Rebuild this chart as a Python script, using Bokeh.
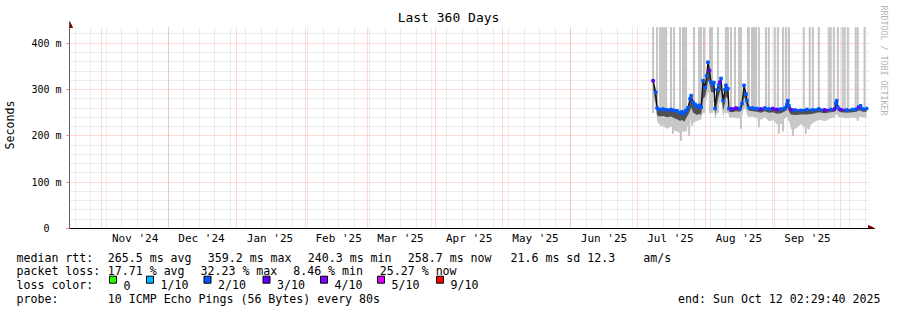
import pandas as pd
from bokeh.plotting import figure
from bokeh.models import (Range1d, FixedTicker, CustomJSTickFormatter, Arrow, Title,
                          NormalHead, ColumnDataSource)
from bokeh.layouts import column
from bokeh.embed import file_html
from bokeh.resources import INLINE
from bokeh.core.properties import value

# ---------------- data ----------------
TITLE = "Last 360 Days"
Y_AXIS_LABEL = "Seconds"
WATERMARK = "RRDTOOL / TOBI OETIKER"
END_TEXT = "end: Sun Oct 12 02:29:40 2025"
X_LEFT = "2024-10-17 08:00"
X_RIGHT = "2025-10-13 14:00"
Y_TOP_MS = 434

Y_TICKS = [0, 100, 200, 300, 400]
Y_TICK_LABELS = ["0\u00a0\u00a0", "100 m", "200 m", "300 m", "400 m"]

MONTH_STARTS = ["2024-11-01", "2024-12-01", "2025-01-01", "2025-02-01", "2025-03-01",
                "2025-04-01", "2025-05-01", "2025-06-01", "2025-07-01", "2025-08-01",
                "2025-09-01", "2025-10-01"]
MONTH_LABELS = ["Nov '24", "Dec '24", "Jan '25", "Feb '25", "Mar '25", "Apr '25",
                "May '25", "Jun '25", "Jul '25", "Aug '25", "Sep '25"]
FIRST_SUNDAY = "2024-10-20"

DATA_T0 = "2025-07-01"
DAY = [7.2, 8.4, 9.0, 9.9, 11.7, 13.5, 15.3, 16.7, 18.0, 19.4,
       20.3, 21.2, 22.1, 23.0, 23.9, 24.4, 25.3, 26.2, 27.1, 28.0,
       28.9, 29.8, 30.7, 31.4, 32.0, 32.7, 33.4, 34.3, 34.7, 35.2,
       36.1, 36.8, 37.4, 37.9, 38.8, 39.7, 40.1, 41.0, 41.5, 42.9,
       44.7, 46.5, 47.4, 48.3, 49.2, 49.6, 50.5, 52.3, 54.1, 55.9,
       57.7, 59.5, 61.3, 63.2, 65.0, 66.8, 67.7, 68.1, 68.6, 69.5,
       71.3, 74.0, 76.7, 79.4, 82.1, 84.8, 87.5, 89.3, 89.8, 90.2,
       90.7, 92.0, 94.7, 97.4, 99.2, 100.1, 101.0, 101.9, 103.7]
MEDIAN_MS = [319, 294, 260, 257, 258, 256, 257, 255, 254, 250,
             252, 248, 255, 261, 280, 287, 272, 268, 263, 266,
             262, 319, 305, 330, 359, 341, 316, 312, 315, 259,
             300, 309, 316, 324, 276, 300, 309, 302, 259, 258,
             260, 259, 270, 309, 290, 276, 261, 260, 259, 258,
             260, 258, 259, 257, 258, 260, 268, 276, 265, 257,
             256, 255, 257, 256, 258, 256, 257, 258, 270, 276,
             262, 257, 256, 257, 258, 262, 265, 258, 259]
LOSS_TENTHS = [3, 2, 2, 2, 2, 2, 2, 2, 2, 2,
               2, 2, 2, 2, 2, 2, 2, 2, 2, 2,
               2, 2, 2, 2, 2, 3, 2, 2, 2, 2,
               2, 2, 3, 2, 2, 2, 2, 2, 2, 3,
               3, 2, 2, 2, 2, 2, 2, 2, 2, 3,
               2, 2, 3, 3, 2, 2, 2, 2, 2, 3,
               2, 2, 2, 2, 2, 3, 2, 3, 2, 2,
               2, 3, 2, 2, 2, 4, 2, 2, 2]
LO_DARK_MS = [300, 270, 245, 242, 243, 240, 242, 238, 236, 232,
              235, 230, 238, 245, 255, 262, 250, 248, 245, 248,
              245, 280, 285, 300, 320, 315, 295, 295, 290, 245,
              270, 285, 295, 300, 255, 270, 285, 280, 252, 251,
              253, 252, 258, 285, 272, 262, 254, 253, 252, 250,
              253, 250, 251, 248, 249, 253, 256, 260, 252, 246,
              245, 246, 246, 248, 251, 249, 251, 252, 258, 262,
              254, 251, 250, 251, 252, 254, 255, 252, 252]
LO_LIGHT_MS = [290, 260, 232, 225, 222, 215, 220, 212, 210, 205,
               210, 208, 212, 222, 230, 238, 228, 230, 232, 235,
               235, 255, 265, 280, 295, 290, 270, 275, 270, 235,
               250, 265, 275, 280, 240, 255, 265, 260, 240, 240,
               238, 238, 242, 260, 255, 245, 240, 242, 238, 235,
               240, 232, 235, 225, 225, 238, 240, 242, 235, 215,
               215, 225, 215, 228, 235, 232, 238, 240, 245, 248,
               242, 240, 238, 240, 238, 240, 242, 240, 240]

UP_SPIKE_DAY = [7.2, 9.0, 10.4, 11.3, 12.2, 13.1, 15.3, 16.7, 19.4, 20.7,
                21.2, 22.1, 25.7, 28.0, 28.9, 30.2, 32.9, 33.8, 36.5, 40.1,
                41.0, 42.4, 44.2, 46.0, 46.9, 50.1, 50.5, 51.9, 52.8, 53.7,
                55.0, 58.2, 59.5, 62.2, 63.6, 65.9, 67.2, 68.6, 75.3, 78.0,
                79.4, 82.1, 86.6, 87.5, 88.9, 90.7, 92.9, 93.8, 95.2, 98.8,
                99.7, 102.8]
DOWN_SPIKE_DAY = [10.8, 13.5, 16.2, 17.6, 19.8, 22.1, 23.5, 24.8, 46.9, 55.0,
                  60.4, 64.0, 65.9, 68.6, 70.4, 72.2, 76.2, 77.6, 79.8, 85.3,
                  94.3, 99.7]
DOWN_SPIKE_MS = [222, 219, 205, 211, 190, 211, 200, 223, 216, 219,
                 233, 205, 210, 233, 200, 219, 205, 215, 233, 233,
                 240, 233]

LOSS_LEVELS = [0, 1, 2, 3, 4, 5, 9]
LOSS_LEVEL_LABELS = ["0", "1/10", "2/10", "3/10", "4/10", "5/10", "9/10"]
LOSS_COLORS = ["#26ff00", "#00b8ff", "#0059ff", "#5e00ff", "#7e00ff", "#dd00ff", "#ff0000"]

MEDIAN_RTT = {"avg": 265.5, "max": 359.2, "min": 240.3, "now": 258.7, "sd": 21.6}
AM_S = 12.3
PACKET_LOSS = {"avg": 17.71, "max": 32.23, "min": 8.46, "now": 25.27}
PROBE_TEXT = "10 ICMP Echo Pings (56 Bytes) every 80s"

# ---------------- layout constants ----------------
MONO = "DejaVu Sans Mono"
DAY_MS = 86400000.0
W, H_MAIN, H_LEG = 897, 248, 62
FL, FB = 67, 228            # frame left / bottom (canvas px)
PLOT_R, PLOT_T = 868, 27    # right / top edge of the graph area
ARROW = 6                   # arrow heads stick out this many px
FR, FT = PLOT_R + ARROW, PLOT_T - ARROW


def ms(ts):
    return pd.Timestamp(ts).value / 1e6


x_left, x_right = ms(X_LEFT), ms(X_RIGHT)
ms_per_px = (x_right - x_left) / (PLOT_R - FL)
y_per_px = Y_TOP_MS / (FB - PLOT_T)
x_end = x_right + ARROW * ms_per_px
y_end = Y_TOP_MS + ARROW * y_per_px
color_of = dict(zip(LOSS_LEVELS, LOSS_COLORS))

p = figure(width=W, height=H_MAIN, x_axis_type="datetime",
           x_range=Range1d(x_left, x_end), y_range=Range1d(0, y_end),
           output_backend="svg", toolbar_location=None,
           min_border_left=FL, min_border_right=W - FR, min_border_top=FT,
           min_border_bottom=H_MAIN - FB)
p.outline_line_color = None
p.background_fill_color = "white"
p.border_fill_color = "white"

# title
p.title.text = TITLE
p.title.align = "left"
p.title.offset = 446 - FL - len(TITLE) * 13 * 0.602 / 2
p.title.text_font = MONO
p.title.text_font_size = "13px"
p.title.text_font_style = "normal"
p.title.text_color = "black"
p.title.vertical_align = "bottom"
p.title.standoff = -6

# watermark on the right
p.add_layout(Title(text=WATERMARK, align="left", offset=-16, text_font=MONO,
                   text_font_size="8.3px", text_font_style="normal",
                   text_color="#b4b4b4", vertical_align="bottom", standoff=8), "right")

# y axis
y_minor = [v for v in range(20, Y_TOP_MS, 20) if v % 100]
p.yaxis.ticker = FixedTicker(ticks=Y_TICKS, minor_ticks=y_minor)
p.yaxis.formatter = CustomJSTickFormatter(
    args=dict(tv=Y_TICKS, tl=Y_TICK_LABELS),
    code="const i = tv.indexOf(tick); return i < 0 ? '' : tl[i];")
p.yaxis.axis_line_color = "#606060"
p.yaxis.major_tick_out = 3
p.yaxis.major_tick_in = 0
p.yaxis.major_tick_line_color = "#ff8080"
p.yaxis.minor_tick_out = 0
p.yaxis.minor_tick_in = 0
p.yaxis.major_label_text_font = MONO
p.yaxis.major_label_text_font_size = "10px"
p.yaxis.major_label_text_color = "black"
p.yaxis.major_label_standoff = 5
p.yaxis.axis_label = Y_AXIS_LABEL
p.yaxis.axis_label_text_font = MONO
p.yaxis.axis_label_text_font_size = "11.6px"
p.yaxis.axis_label_text_font_style = "normal"
p.yaxis.axis_label_text_color = "black"
p.yaxis.axis_label_standoff = 11

# x axis: labels mid-month
label_ticks = [ms(m) + 15 * DAY_MS for m in MONTH_STARTS[:len(MONTH_LABELS)]]
p.xaxis.ticker = FixedTicker(ticks=label_ticks)
p.xaxis.formatter = CustomJSTickFormatter(
    args=dict(tv=label_ticks, tl=MONTH_LABELS),
    code="for (let i = 0; i < tv.length; i++) { if (Math.abs(tv[i] - tick) < 1000) return tl[i]; } return '';")
p.xaxis.axis_line_color = "black"
p.xaxis.major_tick_out = 0
p.xaxis.major_tick_in = 0
p.xaxis.minor_tick_out = 0
p.xaxis.minor_tick_in = 0
p.xaxis.major_label_text_font = MONO
p.xaxis.major_label_text_font_size = "11px"
p.xaxis.major_label_text_color = "black"
p.xaxis.major_label_standoff = 3

# grids
sundays = [ts.value / 1e6 for ts in pd.date_range(FIRST_SUNDAY, X_RIGHT, freq="7D")]
xg, yg = p.xgrid[0], p.ygrid[0]
xg.ticker = FixedTicker(ticks=[ms(m) for m in MONTH_STARTS], minor_ticks=sundays)
yg.ticker = FixedTicker(ticks=Y_TICKS, minor_ticks=y_minor)
if "cross_bounds" in xg.properties():
    xg.cross_bounds = (0, Y_TOP_MS)
    yg.cross_bounds = (x_left, x_right)
for g in (xg, yg):
    g.grid_line_color = "#ff4f4f"
    g.grid_line_alpha = 0.45
    g.grid_line_dash = "1 1"
    g.minor_grid_line_color = "#b8b8b8"
    g.minor_grid_line_alpha = 0.5
    g.minor_grid_line_dash = "1 1"

# ---------------- data glyphs ----------------
t = pd.Timestamp(DATA_T0) + pd.to_timedelta(DAY, unit="D")
src = ColumnDataSource(dict(t=t, med=MEDIAN_MS, lo_d=LO_DARK_MS, lo_l=LO_LIGHT_MS,
                            col=[color_of[l] for l in LOSS_TENTHS]))
bar_w = 0.45 * DAY_MS
up_t = pd.Timestamp(DATA_T0) + pd.to_timedelta(UP_SPIKE_DAY, unit="D")
dn_t = pd.Timestamp(DATA_T0) + pd.to_timedelta(DOWN_SPIKE_DAY, unit="D")
p.vbar(x=up_t, bottom=250, top=Y_TOP_MS, width=bar_w, color="#c4c4c4")
p.vbar(x=dn_t, bottom=DOWN_SPIKE_MS, top=255, width=bar_w, color="#c4c4c4")
p.varea(x="t", y1="lo_l", y2="med", source=src, fill_color="#c8c8c8")
p.varea(x="t", y1="lo_d", y2="med", source=src, fill_color="#333333", fill_alpha=0.8)
p.line("t", "med", source=src, line_color="#111111", line_width=1.3)

flat = [i for i in range(len(DAY) - 1) if abs(MEDIAN_MS[i + 1] - MEDIAN_MS[i]) <= 6]
p.segment(x0=[t[i] for i in flat], y0=[MEDIAN_MS[i] for i in flat],
          x1=[t[i + 1] for i in flat], y1=[MEDIAN_MS[i + 1] for i in flat],
          line_color=[color_of[LOSS_TENTHS[i]] for i in flat], line_width=1.7)
p.scatter("t", "med", source=src, marker="square", size=2.6, color="col")

# axis arrow heads
head = dict(size=6, fill_color="#7a0000", line_color="#7a0000", line_width=1)
p.add_layout(Arrow(end=NormalHead(**head), x_start=x_left, y_start=Y_TOP_MS,
                   x_end=x_left, y_end=y_end, line_color="#606060", line_width=1))
p.add_layout(Arrow(end=NormalHead(**head), x_start=x_right, y_start=0,
                   x_end=x_end, y_end=0, line_color="black", line_width=1))

# ---------------- legend (canvas-pixel coordinates) ----------------
lg = figure(width=W, height=H_LEG, x_range=Range1d(0, W), y_range=Range1d(H_MAIN + H_LEG, H_MAIN),
            output_backend="svg", toolbar_location=None, x_axis_location=None,
            y_axis_location=None, min_border=0, min_border_left=0, min_border_right=0,
            min_border_top=0, min_border_bottom=0)
if "frame_align" in lg.properties():
    lg.frame_align = False
    p.frame_align = False
lg.outline_line_color = None
lg.grid.visible = False
lg.background_fill_color = "white"
lg.border_fill_color = "white"

R1, R2, R3, R4 = 257.0, 270.8, 284.7, 298.5
items_x, items_y, items_t = [], [], []


def add(x, y, s):
    items_x.append(x)
    items_y.append(y)
    items_t.append(s)


add(16, R1, "median rtt:")
for x, k in zip([107.3, 207.3, 307.3, 407.3], ["avg", "max", "min", "now"]):
    add(x, R1, f"{MEDIAN_RTT[k]:.1f} ms {k}")
add(510, R1, f"{MEDIAN_RTT['sd']:.1f} ms sd")
add(586.7, R1, f"{AM_S:.1f}")
add(642.7, R1, "am/s")

add(16, R2, "packet loss:")
for x, k in zip([107.3, 200, 292.7, 379.3], ["avg", "max", "min", "now"]):
    add(x, R2, f"{PACKET_LOSS[k]:.2f} % {k}")

add(16, R3, "loss color:")
sq_left = [109, 146, 203.5, 262.5, 320, 377, 436]
for x, lab in zip(sq_left, LOSS_LEVEL_LABELS):
    add(x + 14, R3, lab)

add(16, R4, "probe:")
add(107.3, R4, PROBE_TEXT)

lg.text(x=items_x, y=items_y, text=items_t, text_font=value(MONO),
        text_font_size="11.6px", text_baseline="alphabetic", text_align="left",
        text_color="black")
lg.text(x=[880], y=[R4], text=[END_TEXT], text_font=value(MONO),
        text_font_size="11.6px", text_baseline="alphabetic", text_align="right",
        text_color="black")
lg.quad(left=sq_left, right=[x + 7 for x in sq_left], top=[R3 - 9.0] * len(sq_left),
        bottom=[R3 - 2.0] * len(sq_left), fill_color=LOSS_COLORS, line_color="black",
        line_width=1)

layout = column(p, lg, spacing=0)
open("out.html", "w").write(file_html(layout, INLINE))
